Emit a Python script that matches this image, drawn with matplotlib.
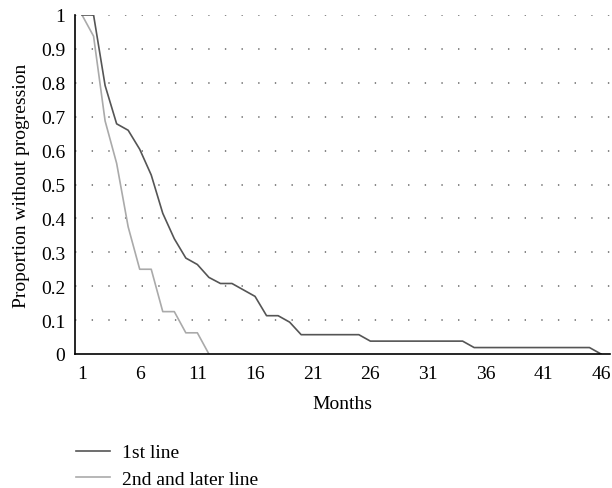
import matplotlib
matplotlib.use("Agg")
import matplotlib.pyplot as plt
from matplotlib.lines import Line2D

months_first = list(range(1, 47))
first_line = [1.0, 1.0, 0.792, 0.679, 0.660, 0.604, 0.528, 0.415, 0.340, 0.283,
              0.264, 0.226, 0.208, 0.208, 0.189, 0.170, 0.113, 0.113, 0.094, 0.057,
              0.057, 0.057, 0.057, 0.057, 0.057, 0.038, 0.038, 0.038, 0.038, 0.038,
              0.038, 0.038, 0.038, 0.038, 0.019, 0.019, 0.019, 0.019, 0.019, 0.019,
              0.019, 0.019, 0.019, 0.019, 0.019, 0.0]
months_second = list(range(1, 13))
second_line = [1.0, 0.9375, 0.6875, 0.5625, 0.375, 0.25, 0.25, 0.125, 0.125, 0.0625, 0.0625, 0.0]

x_ticks = [1, 6, 11, 16, 21, 26, 31, 36, 41, 46]
y_ticks = [0, 0.1, 0.2, 0.3, 0.4, 0.5, 0.6, 0.7, 0.8, 0.9, 1]
y_tick_labels = ["0", "0.1", "0.2", "0.3", "0.4", "0.5", "0.6", "0.7", "0.8", "0.9", "1"]

plt.rcParams['font.family'] = ['Liberation Serif', 'DejaVu Serif']
FS = 14

fig = plt.figure(figsize=(6.12, 4.89), dpi=100)
ax = fig.add_axes([75/612, 1-355/489, (610-75)/612, (355-16)/489])

for y in y_ticks[1:]:
    ax.axhline(y, color='#666666', lw=1.1, dashes=(0.9, 10.0), zorder=0)

dark = '#555555'
light = '#aaaaaa'
ax.plot(months_second, second_line, color=light, lw=1.2)
ax.plot(months_first, first_line, color=dark, lw=1.2)

ax.set_xlim(0.39, 46.78)
ax.set_ylim(0, 1)
ax.set_xticks(x_ticks)
ax.set_xticklabels([str(t) for t in x_ticks], fontsize=FS)
ax.set_yticks(y_ticks)
ax.set_yticklabels(y_tick_labels, fontsize=FS)
ax.tick_params(length=0, pad=7)
ax.tick_params(axis='x', pad=8)
for s in ['top', 'right']:
    ax.spines[s].set_visible(False)
ax.spines['left'].set_color('black')
ax.spines['bottom'].set_color('black')
ax.spines['left'].set_linewidth(1.2)
ax.spines['bottom'].set_linewidth(1.2)

ax.set_xlabel('Months', fontsize=FS, labelpad=9)
ax.set_ylabel('Proportion without progression', fontsize=FS, labelpad=8)

handles = [Line2D([0], [0], color=dark, lw=1.2), Line2D([0], [0], color=light, lw=1.2)]
fig.legend(handles, ['1st line', '2nd and later line'], loc='upper left',
           bbox_to_anchor=(72/612, 1-441/489), frameon=False, fontsize=FS,
           handlelength=1.75, handletextpad=0.62, labelspacing=0.45,
           borderpad=0.2, borderaxespad=0)

fig.savefig('out.png', dpi=100)
